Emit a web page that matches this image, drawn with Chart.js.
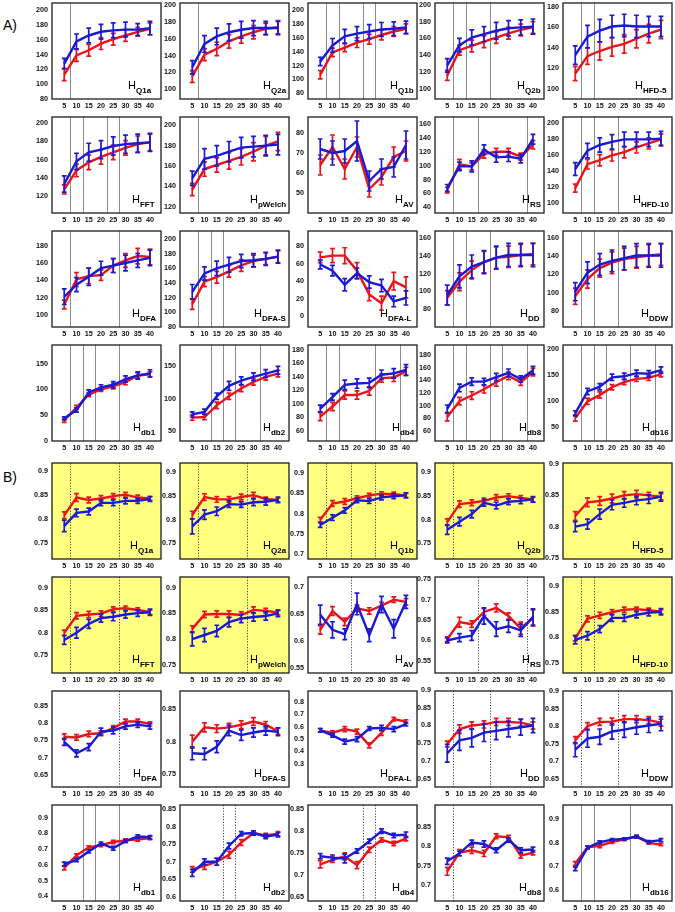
<!doctype html>
<html lang="en">
<head>
<meta charset="utf-8">
<title>H estimators vs. window length</title>
<script src="https://cdn.jsdelivr.net/npm/chart.js"></script>
<style>
body{margin:0;background:#fff;font-family:"Liberation Sans",Arial,sans-serif;}
#fig{position:relative;width:675px;height:912px;overflow:hidden;}
#fig canvas{position:absolute;}
.sec{position:absolute;left:3px;font-size:14px;line-height:14px;color:#000;}
.hl{position:absolute;font-size:11px;line-height:11px;white-space:nowrap;color:#000;}
.hl sub{font-size:8px;font-weight:bold;vertical-align:baseline;position:relative;top:4px;}
</style>
</head>
<body>
<div id="fig">
  <div class="sec" style="top:18px">A)</div>
  <div class="sec" style="top:470px">B)</div>
</div>
<script>
// ---- data ----
const xValues = [5, 10, 15, 20, 25, 30, 35, 40];
const panelNames = ['Q1a','Q2a','Q1b','Q2b','HFD-5','FFT','pWelch','AV','RS','HFD-10',
                    'DFA','DFA-S','DFA-L','DD','DDW','db1','db2','db4','db8','db16'];

// A) panels
const redA = [
  [113,139,146,155,161,166,171,175],[115,141,148,157,163,168,172,174],[107,139,146,153,158,164,169,173],
  [116,146,151,156,161,166,170,173],[115,132,137,141,144,149,154,158],
  [127,148,157,163,168,173,177,179],[137,157,161,165,169,174,180,184],[64,73,62,73,52,58,68,71],
  [65,102,99,117,120,120,113,130],[119,149,154,160,164,170,175,180],
  [112,141,145,146,157,163,168,167],[111,142,148,156,164,170,173,176],[67,69,69,52,25,15,40,33],
  [93,111,124,133,138,139,141,142],[96,115,127,133,137,139,141,142],
  [40,65,90,100,106,114,127,129],[71,72,90,104,116,126,134,139],[81,96,113,113,119,138,139,148],
  [82,107,116,126,137,147,137,153],[68,100,112,127,137,143,145,152]
];
const redErrA = [
  [8,8,8,8,8,8,6,8],[7,7,8,8,8,8,7,8],[6,6,6,7,7,7,7,7],[6,6,7,7,7,7,7,7],[7,8,9,9,9,9,9,9],
  [5,7,8,8,8,8,9,9],[6,7,7,8,8,9,9,9],[5,6,5,5,4,4,5,5],[4,7,5,6,5,5,5,6],[5,6,7,7,7,7,7,7],
  [5,8,9,6,8,8,9,9],[7,7,8,8,8,8,8,8],[6,8,9,9,7,8,10,12],[8,10,10,12,12,12,12,12],[9,10,10,12,12,12,12,12],
  [4,4,4,4,5,5,5,5],[4,4,5,5,5,5,5,5],[6,6,6,6,6,6,6,6],[6,6,6,6,6,6,5,6],[6,6,6,5,5,5,5,5]
];
const blueA = [
  [128,158,166,171,173,174,174,176],[126,154,163,168,171,173,173,173],[126,149,162,166,169,172,173,175],
  [128,152,161,165,169,172,173,174],[133,151,157,161,162,161,161,161],
  [133,158,168,171,175,177,178,179],[148,167,170,174,178,179,180,181],[72,70,71,76,56,62,63,74],
  [68,99,99,123,112,113,110,138],[143,166,173,177,180,180,180,181],
  [121,135,144,154,157,160,163,166],[128,153,160,165,170,171,173,176],[59,52,36,49,39,35,17,21],
  [96,117,128,133,138,141,141,141],[101,122,131,135,138,141,141,141],
  [44,60,94,104,109,120,127,131],[76,80,104,120,128,134,139,144],[93,110,128,130,131,143,145,150],
  [95,128,138,138,145,152,142,156],[77,119,128,146,148,154,153,160]
];
const blueErrA = [
  [7,10,10,10,10,10,8,9],[8,10,10,10,10,9,8,8],[6,10,10,10,10,10,10,9],[8,8,9,9,10,9,9,9],[9,11,11,11,11,11,10,10],
  [9,9,10,10,10,10,10,10],[7,10,10,10,10,10,10,10],[5,6,6,10,5,5,5,7],[5,6,8,7,7,7,6,7],[8,9,9,9,9,9,9,9],
  [9,8,10,8,8,9,8,9],[10,9,10,10,9,9,9,9],[5,6,7,6,7,7,6,8],[11,13,13,13,13,13,13,13],[10,12,12,12,13,13,13,13],
  [3,4,5,5,6,6,7,7],[4,4,5,7,6,6,6,6],[5,5,7,7,7,7,7,8],[6,6,6,5,6,6,5,6],[5,6,6,6,6,6,6,6]
];
const yMinA = [80,88,72,88,90, 101,114,40,32,88, 86,80,-12,60,62, 0,35,45,44,24];
const yMaxA = [210,203,210,202,184, 207,208,88,170,208, 197,211,97,168,168, 186,183,187,196,208];
const yTicksA = [
  [80,100,120,140,160,180,200],[100,120,140,160,180,200],[80,100,120,140,160,180,200],
  [100,120,140,160,180,200],[100,120,140,160,180],
  [120,140,160,180,200],[120,140,160,180,200],[50,60,70,80],[40,60,80,100,120,140,160],
  [100,120,140,160,180,200],
  [100,120,140,160,180],[80,100,120,140,160,180,200],[0,20,40,60,80],[80,100,120,140,160],[80,100,120,140,160],
  [0,50,100,150],[50,100,150],[60,80,100,120,140,160,180],[60,80,100,120,140,160,180],[50,100,150,200]
];
const guidesA = [
  [7.5],[7.5],[7.5,12.5,22.5,27.5],[7.5,12.5,22.5],[7.5,12.5],
  [7.5,12.5,22.5,27.5],[7.5],[],[7.5,17.5,37.5],[7.5,12.5,22.5],
  [7.5,27.5],[7.5,12.5,17.5],[],[7.5,12.5,22.5],[7.5,12.5,22.5],
  [7.5,12.5,17.5,27.5],[12.5,17.5,22.5,32.5],[7.5,12.5,27.5,37.5],[7.5,12.5,22.5,27.5,37.5],[7.5,12.5,17.5,27.5,37.5]
];

// B) panels
const redB = [
  [0.808,0.845,0.840,0.843,0.848,0.851,0.845,0.843],[0.810,0.848,0.843,0.843,0.848,0.852,0.844,0.842],
  [0.785,0.825,0.830,0.838,0.845,0.849,0.848,0.845],[0.795,0.833,0.836,0.840,0.847,0.850,0.846,0.843],
  [0.817,0.839,0.841,0.845,0.850,0.852,0.850,0.848],
  [0.800,0.838,0.841,0.843,0.853,0.855,0.851,0.846],[0.820,0.848,0.849,0.849,0.847,0.857,0.855,0.852],
  [0.620,0.655,0.635,0.660,0.655,0.665,0.676,0.672],[0.603,0.645,0.640,0.670,0.680,0.660,0.630,0.655],
  [0.798,0.836,0.843,0.849,0.854,0.855,0.853,0.850],
  [0.760,0.758,0.768,0.770,0.785,0.804,0.804,0.797],[0.800,0.822,0.820,0.822,0.826,0.831,0.826,0.816],
  [0.57,0.55,0.58,0.56,0.45,0.55,0.66,0.64],[0.748,0.790,0.800,0.803,0.810,0.810,0.808,0.800],
  [0.760,0.800,0.812,0.813,0.820,0.820,0.817,0.810],
  [0.58,0.66,0.71,0.725,0.745,0.755,0.76,0.77],[0.678,0.688,0.700,0.720,0.755,0.782,0.775,0.780],
  [0.725,0.735,0.743,0.723,0.758,0.780,0.772,0.783],[0.736,0.784,0.790,0.782,0.826,0.823,0.776,0.784],
  [0.712,0.781,0.788,0.804,0.815,0.827,0.800,0.793]
];
const redErrB = [
  [.007,.008,.006,.006,.005,.005,.005,.004],[.008,.007,.006,.006,.006,.006,.004,.004],
  [.006,.007,.007,.006,.005,.005,.005,.005],[.007,.007,.006,.006,.006,.005,.005,.005],
  [.007,.007,.007,.007,.006,.006,.005,.005],
  [.006,.007,.007,.006,.005,.005,.005,.005],[.006,.006,.006,.006,.006,.006,.005,.005],
  [.008,.008,.007,.006,.006,.006,.005,.006],[.006,.012,.008,.008,.010,.008,.015,.020],
  [.005,.006,.006,.005,.005,.004,.004,.004],
  [.008,.008,.008,.007,.007,.007,.007,.006],[.010,.007,.006,.006,.006,.006,.005,.005],
  [.015,.015,.02,.02,.02,.02,.015,.015],[.008,.012,.01,.01,.01,.01,.01,.01],[.01,.01,.01,.01,.01,.01,.01,.01],
  [.012,.01,.01,.01,.01,.01,.01,.01],[.008,.01,.01,.01,.008,.006,.006,.006],
  [.008,.006,.008,.008,.006,.005,.005,.005],[.01,.008,.008,.008,.006,.005,.006,.006],
  [.008,.006,.008,.006,.005,.005,.005,.005]
];
const blueB = [
  [0.786,0.813,0.816,0.834,0.834,0.838,0.838,0.842],[0.786,0.811,0.818,0.833,0.832,0.837,0.838,0.842],
  [0.772,0.790,0.808,0.833,0.831,0.840,0.843,0.845],[0.779,0.796,0.812,0.836,0.830,0.838,0.840,0.843],
  [0.800,0.804,0.820,0.835,0.838,0.842,0.844,0.848],
  [0.784,0.800,0.820,0.833,0.836,0.841,0.844,0.846],[0.800,0.808,0.816,0.833,0.840,0.843,0.845,0.850],
  [0.648,0.620,0.612,0.668,0.610,0.667,0.622,0.672],[0.600,0.607,0.612,0.660,0.628,0.635,0.625,0.658],
  [0.795,0.803,0.816,0.838,0.838,0.844,0.848,0.850],
  [0.745,0.712,0.730,0.775,0.778,0.790,0.795,0.790],[0.782,0.781,0.792,0.817,0.810,0.814,0.817,0.815],
  [0.57,0.53,0.48,0.50,0.585,0.59,0.58,0.62],[0.722,0.758,0.765,0.780,0.785,0.790,0.795,0.800],
  [0.733,0.765,0.770,0.785,0.790,0.797,0.802,0.807],
  [0.605,0.63,0.685,0.735,0.705,0.75,0.78,0.775],[0.668,0.700,0.700,0.745,0.780,0.782,0.772,0.777],
  [0.743,0.740,0.738,0.755,0.777,0.800,0.790,0.792],[0.762,0.782,0.810,0.806,0.790,0.816,0.790,0.792],
  [0.690,0.780,0.803,0.814,0.817,0.827,0.805,0.812]
];
const blueErrB = [
  [.012,.008,.007,.006,.006,.006,.005,.005],[.016,.010,.009,.007,.006,.007,.007,.006],
  [.006,.007,.007,.006,.006,.006,.006,.006],[.01,.009,.008,.007,.007,.006,.006,.006],
  [.008,.008,.008,.008,.007,.007,.007,.007],
  [.01,.012,.01,.009,.009,.008,.007,.007],[.013,.013,.011,.009,.008,.008,.008,.006],
  [.018,.015,.01,.02,.012,.015,.017,.012],[.006,.01,.012,.02,.018,.015,.015,.02],
  [.008,.008,.007,.007,.007,.006,.006,.006],
  [.01,.01,.01,.01,.01,.008,.008,.008],[.01,.009,.009,.008,.008,.007,.007,.006],
  [.015,.015,.02,.02,.015,.02,.02,.015],[.025,.028,.025,.025,.025,.022,.022,.02],[.02,.025,.022,.022,.022,.02,.02,.02],
  [.012,.01,.01,.01,.012,.01,.01,.01],[.01,.008,.01,.008,.006,.006,.006,.006],
  [.006,.006,.01,.005,.005,.005,.005,.006],[.008,.006,.006,.008,.006,.005,.006,.006],
  [.008,.006,.006,.005,.005,.005,.005,.006]
];
const yMinB = [0.717,0.717,0.688,0.717,0.748, 0.71,0.734,0.54,0.52,0.73, 0.615,0.73,0.115,0.627,0.627, 0.37,0.588,0.642,0.66,0.552];
const yMaxB = [0.917,0.92,0.925,0.92,0.902, 0.925,0.921,0.718,0.756,0.918, 0.892,0.878,0.886,0.897,0.9, 0.98,0.862,0.859,0.906,0.962];
const yTicksB = [
  [0.75,0.8,0.85,0.9],[0.75,0.8,0.85,0.9],[0.7,0.75,0.8,0.85,0.9],[0.75,0.8,0.85,0.9],[0.75,0.8,0.85,0.9],
  [0.75,0.8,0.85,0.9],[0.75,0.8,0.85,0.9],[0.55,0.6,0.65,0.7],[0.55,0.6,0.65,0.7,0.75],[0.75,0.8,0.85,0.9],
  [0.65,0.7,0.75,0.8,0.85],[0.75,0.8,0.85],[0.3,0.4,0.5,0.6,0.7,0.8],[0.65,0.7,0.75,0.8,0.85,0.9],[0.65,0.7,0.75,0.8,0.85,0.9],
  [0.4,0.5,0.6,0.7,0.8,0.9],[0.6,0.65,0.7,0.75,0.8,0.85],[0.65,0.7,0.75,0.8,0.85],[0.7,0.75,0.8,0.85],[0.6,0.7,0.8,0.9]
];
const guidesB = [
  [7.5,27.5],[7.5,27.5],[7.5,17.5,27.5],[7.5],[],
  [7.5,27.5],[27.5],[17.5],[17.5,37.5],[7.5,12.5],
  [27.5],[],[],[7.5,22.5],[7.5,22.5],
  [12.5,17.5,27.5],[17.5,22.5],[22.5,27.5],[7.5],[7.5,12.5,27.5]
];
const yellowB = [0,1,2,3,4,5,6,9];
const solidGuidesB = [15,19];

// ---- layout (label x as fraction of the plot width) ----
const labelPosA = [0.70,0.78,0.77,0.77,0.66, 0.73,0.66,0.80,0.80,0.64, 0.73,0.68,0.66,0.78,0.72, 0.74,0.76,0.77,0.77,0.74];
const labelPosB = [0.72,0.77,0.77,0.77,0.63, 0.73,0.66,0.80,0.80,0.63, 0.74,0.68,0.66,0.78,0.72, 0.74,0.76,0.77,0.77,0.74];

const RED = '#e8141c', BLUE = '#1a1ad2';
const PW = 109, PH = 96, AXW = 34, PADT = 5, PADR = 6, AXH = 14;
const fig = document.getElementById('fig');

function decoPlugin(fill, guides, dotted) {
  return {
    id: 'deco',
    beforeDatasetsDraw(chart) {
      const {ctx, chartArea: a, scales: {x}} = chart;
      ctx.save();
      if (fill) { ctx.fillStyle = fill; ctx.fillRect(a.left, a.top, a.width, a.height); }
      ctx.lineWidth = 1;
      ctx.strokeStyle = dotted ? '#444' : '#8c8c8c';
      ctx.setLineDash(dotted ? [1.2, 1.6] : []);
      guides.forEach(g => {
        const px = Math.round(x.getPixelForValue(g)) + 0.5;
        ctx.beginPath(); ctx.moveTo(px, a.top); ctx.lineTo(px, a.bottom); ctx.stroke();
      });
      ctx.restore();
    },
    afterDatasetDraw(chart, args) {
      const ds = chart.data.datasets[args.index];
      const {ctx, scales: {x, y}} = chart;
      ctx.save();
      ctx.strokeStyle = ds.borderColor; ctx.lineWidth = 1.7;
      ds.data.forEach((p, k) => {
        const px = x.getPixelForValue(p.x);
        const y1 = y.getPixelForValue(p.y + ds.err[k]);
        const y2 = y.getPixelForValue(p.y - ds.err[k]);
        ctx.beginPath();
        ctx.moveTo(px, y1); ctx.lineTo(px, y2);
        ctx.moveTo(px - 2.4, y1); ctx.lineTo(px + 2.4, y1);
        ctx.moveTo(px - 2.4, y2); ctx.lineTo(px + 2.4, y2);
        ctx.stroke();
      });
      ctx.restore();
    },
    afterDraw(chart) {
      const {ctx, chartArea: a} = chart;
      ctx.save();
      ctx.strokeStyle = '#1e1e1e'; ctx.lineWidth = 1.3;
      ctx.strokeRect(a.left, a.top, a.width, a.height);
      ctx.restore();
    }
  };
}

const tickFont = {family: '"Liberation Sans", Arial, sans-serif', size: 7.2, weight: 'bold'};

function addPanel(isB, i) {
  const col = i % 5, row = Math.floor(i / 5);
  const left = Math.round(52 + col * 127.75);
  const top = (isB ? 463 : 3) + row * 114;
  const red = isB ? redB[i] : redA[i], redErr = isB ? redErrB[i] : redErrA[i];
  const blue = isB ? blueB[i] : blueA[i], blueErr = isB ? blueErrB[i] : blueErrA[i];
  const ticks = isB ? yTicksB[i] : yTicksA[i];
  const guides = isB ? guidesB[i] : guidesA[i];
  const fill = isB && yellowB.includes(i) ? '#ffff80' : null;
  const dotted = isB && !solidGuidesB.includes(i);

  const cv = document.createElement('canvas');
  cv.width = AXW + PW + PADR; cv.height = PADT + PH + AXH;
  cv.style.left = (left - AXW) + 'px'; cv.style.top = (top - PADT) + 'px';
  fig.appendChild(cv);

  const pts = arr => arr.map((v, k) => ({x: xValues[k], y: v}));
  new Chart(cv, {
    type: 'line',
    data: {
      datasets: [
        {data: pts(blue), err: blueErr, borderColor: BLUE, borderWidth: 2.4, pointRadius: 0, tension: 0, fill: false},
        {data: pts(red), err: redErr, borderColor: RED, borderWidth: 2.4, pointRadius: 0, tension: 0, fill: false}
      ]
    },
    options: {
      responsive: false, animation: false, events: [],
      layout: {padding: {top: PADT, right: PADR, left: 0, bottom: 0}},
      plugins: {legend: {display: false}, tooltip: {enabled: false}},
      scales: {
        x: {
          type: 'linear', min: 0, max: 44.5,
          grid: {display: false, drawTicks: false}, border: {display: false},
          ticks: {font: tickFont, color: '#111', padding: 3, maxRotation: 0, autoSkip: false},
          afterBuildTicks: s => { s.ticks = xValues.map(v => ({value: v})); },
          afterFit: s => { s.height = AXH; s.paddingLeft = 0; s.paddingRight = 0; }
        },
        y: {
          type: 'linear', min: isB ? yMinB[i] : yMinA[i], max: isB ? yMaxB[i] : yMaxA[i],
          grid: {display: false, drawTicks: false}, border: {display: false},
          ticks: {font: tickFont, color: '#111', padding: 4, autoSkip: false, callback: v => String(v)},
          afterBuildTicks: s => { s.ticks = ticks.map(v => ({value: v})); },
          afterFit: s => { s.width = AXW; s.paddingTop = 0; s.paddingBottom = 0; }
        }
      }
    },
    plugins: [decoPlugin(fill, guides, dotted)]
  });

  const lab = document.createElement('div');
  lab.className = 'hl';
  lab.innerHTML = 'H<sub>' + panelNames[i] + '</sub>';
  lab.style.top = (top + 77) + 'px';
  fig.appendChild(lab);
  // keep the label inside the plot frame
  let lx = Math.round(left + (isB ? labelPosB[i] : labelPosA[i]) * PW);
  lx = Math.min(lx, left + PW - 3 - lab.offsetWidth);
  lab.style.left = lx + 'px';
}

for (let i = 0; i < 20; i++) addPanel(false, i);
for (let i = 0; i < 20; i++) addPanel(true, i);
</script>
</body>
</html>
